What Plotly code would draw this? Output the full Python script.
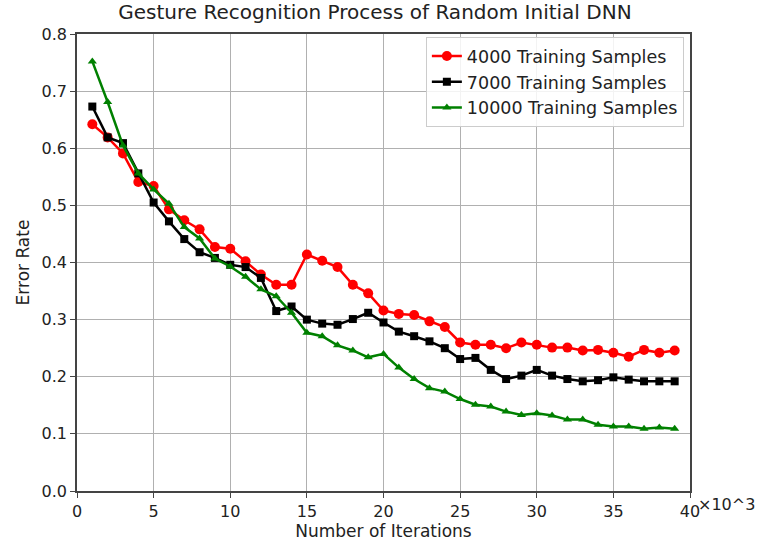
import plotly.graph_objects as go

iterations = list(range(1, 40))

err_4000 = [0.642, 0.619, 0.591, 0.541, 0.534, 0.493, 0.474, 0.458, 0.427, 0.424,
            0.402, 0.379, 0.361, 0.361, 0.414, 0.403, 0.392, 0.361, 0.346, 0.316,
            0.310, 0.308, 0.297, 0.287, 0.260, 0.256, 0.256, 0.250, 0.260, 0.256,
            0.251, 0.251, 0.246, 0.247, 0.242, 0.235, 0.247, 0.242, 0.246]

err_7000 = [0.673, 0.619, 0.609, 0.556, 0.505, 0.472, 0.441, 0.418, 0.408, 0.396,
            0.392, 0.373, 0.315, 0.323, 0.300, 0.293, 0.291, 0.301, 0.312, 0.295,
            0.279, 0.271, 0.262, 0.250, 0.231, 0.233, 0.212, 0.196, 0.202, 0.212,
            0.202, 0.196, 0.192, 0.194, 0.199, 0.195, 0.192, 0.192, 0.192]

err_10000 = [0.752, 0.681, 0.605, 0.556, 0.528, 0.503, 0.462, 0.442, 0.407, 0.393,
             0.375, 0.353, 0.341, 0.312, 0.277, 0.271, 0.255, 0.246, 0.234, 0.240,
             0.216, 0.196, 0.180, 0.174, 0.161, 0.151, 0.148, 0.139, 0.133, 0.136,
             0.132, 0.125, 0.125, 0.116, 0.113, 0.113, 0.109, 0.111, 0.109]

series_names = ["4000 Training Samples", "7000 Training Samples", "10000 Training Samples"]
x_ticks = [0, 5, 10, 15, 20, 25, 30, 35, 40]
y_ticks = [0.0, 0.1, 0.2, 0.3, 0.4, 0.5, 0.6, 0.7, 0.8]

FONT = "DejaVu Sans"

fig = go.Figure()
styles = [
    dict(color="#ff0000", symbol="circle", size=10),
    dict(color="#000000", symbol="square", size=8),
    dict(color="#008000", symbol="triangle-up", size=8),
]
for name, ys, st in zip(series_names, [err_4000, err_7000, err_10000], styles):
    fig.add_trace(go.Scatter(
        x=iterations, y=ys, name=name, mode="lines+markers",
        line=dict(color=st["color"], width=2.5),
        marker=dict(color=st["color"], symbol=st["symbol"], size=st["size"]),
    ))

fig.update_layout(
    width=760, height=546,
    margin=dict(l=77, r=70, t=34, b=55),
    paper_bgcolor="white", plot_bgcolor="white",
    font=dict(family=FONT, color="#222222", size=16),
    title=dict(text="Gesture Recognition Process of Random Initial DNN",
               x=0.486, xref="paper", xanchor="center", y=0.978, yanchor="middle",
               font=dict(size=20, family=FONT, color="#222222")),
    showlegend=True,
    legend=dict(x=0.99, y=0.993, xanchor="right", yanchor="top",
                bgcolor="rgba(255,255,255,0.85)", bordercolor="#cccccc", borderwidth=1,
                font=dict(size=17.5, family=FONT, color="#222222"),
                tracegroupgap=0),
)
fig.update_xaxes(
    range=[0, 40], tickvals=x_ticks, ticktext=[str(v) for v in x_ticks],
    showgrid=True, gridcolor="#b0b0b0", gridwidth=1,
    showline=True, linecolor="#444444", linewidth=1.5, mirror=True,
    ticks="outside", ticklen=5, tickcolor="#444444",
    zeroline=False, automargin=False,
    title=dict(text="Number of Iterations", font=dict(size=17, family=FONT), standoff=4),
    tickfont=dict(size=16, family=FONT),
)
fig.update_yaxes(
    range=[0, 0.8], tickvals=y_ticks, ticktext=[f"{v:.1f}" for v in y_ticks],
    showgrid=True, gridcolor="#b0b0b0", gridwidth=1,
    showline=True, linecolor="#444444", linewidth=1.5, mirror=True,
    ticks="outside", ticklen=5, tickcolor="#444444",
    zeroline=False, automargin=False,
    title=dict(text="Error Rate", font=dict(size=17, family=FONT), standoff=8),
    tickfont=dict(size=16, family=FONT),
)
fig.add_annotation(
    text="×10^3", xref="paper", yref="paper", x=1.0, y=0.0,
    xanchor="left", yanchor="top", xshift=6, yshift=-2, showarrow=False,
    font=dict(size=16, family=FONT, color="#222222"),
)

fig.write_html("out.html")
